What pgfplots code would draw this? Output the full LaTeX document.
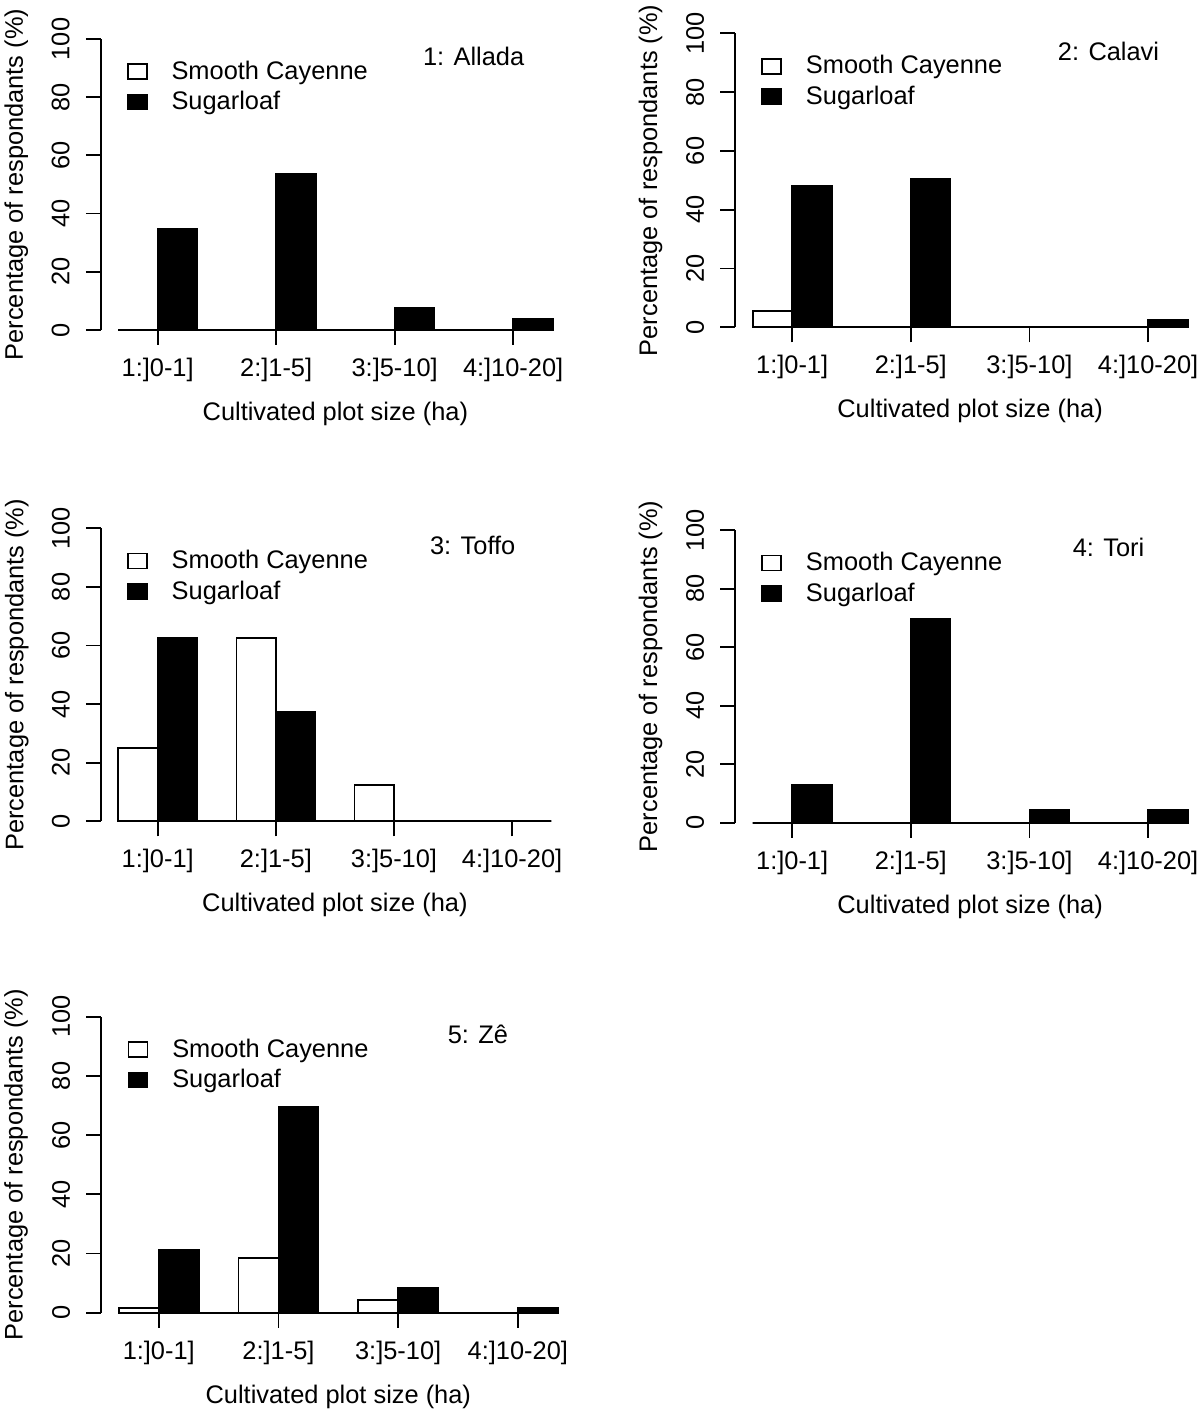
\documentclass[border=0pt]{standalone}
\usepackage{fontspec}
\setmainfont{Liberation Sans}
\usepackage{pgfplots}
\pgfplotsset{compat=1.18}
\newcommand\fs{\fontsize{12.7}{15}\selectfont}
\pgfplotsset{
  panel/.style={
    scale only axis, clip=false,
    xmin=0.56, xmax=12.44, ymin=0, ymax=100,
    axis x line*=bottom, axis y line*=left,
    x axis line style={draw=none},
    y axis line style={-, line width=0.9pt},
    tick align=outside, major tick length=7.5pt,
    every tick/.style={black, line width=0.9pt},
    xtick={2,5,8,11},
    xticklabels={{1:]0-1]},{2:]1-5]},{3:]5-10]},{4:]10-20]}},
    ytick={0,20,40,60,80,100},
    yticklabel style={rotate=90, anchor=south},
    yticklabel shift=4.5pt,
    xticklabel shift=3pt,
    /pgf/number format/assume math mode=true,
    tick label style={font=\fs},
    label style={font=\fs},
    xlabel={Cultivated plot size (ha)},
    ylabel={Percentage of respondants (\%)},
    xlabel style={at={(axis description cs:0.5,0)}, anchor=center, yshift=-42pt},
    ylabel style={at={(axis description cs:-0.18,0.5)}, anchor=center},
    legend style={at={(axis cs:1.06,95.3)}, anchor=north west, draw=none, fill=none, font=\fs, row sep=0.5pt, column sep=10pt},
    legend cell align=left,
  },
  sc/.style={ybar, bar width=1, bar shift=0pt, fill=white, draw=black, line width=0.9pt,
    legend image code/.code={\draw[fill=white, draw=black, line width=0.8pt] (0pt,-3.75pt) rectangle (9.5pt,3.75pt);}},
  sl/.style={ybar, bar width=1, bar shift=0pt, fill=black, draw=black, line width=0.9pt,
    legend image code/.code={\draw[fill=black, draw=black, line width=0.8pt] (0pt,-3.75pt) rectangle (9.5pt,3.75pt);}},
}
\begin{document}
\begin{tikzpicture}
\useasboundingbox (0,0) rectangle (600pt,706pt);
% Panel 1
\begin{axis}[panel, at={(50.4pt,541pt)}, anchor=south west, width=234.6pt, height=145.5pt]
\addplot[sc] coordinates {(1.5,0) (4.5,0) (7.5,0) (10.5,0)};
\addplot[sl] coordinates {(2.5,34.6) (5.5,53.8) (8.5,7.7) (11.5,3.8)};
\legend{Smooth Cayenne, Sugarloaf}
\draw[line width=0.9pt] (axis cs:1,0) -- (axis cs:12,0);
\node[font=\fs] at (axis cs:10,94) {1: Allada};
\end{axis}
% Panel 2
\begin{axis}[panel, at={(367.6pt,542.35pt)}, anchor=south west, width=234.9pt, height=147pt]
\addplot[sc] coordinates {(1.5,5.6) (4.5,0) (7.5,0) (10.5,0)};
\addplot[sl] coordinates {(2.5,48.2) (5.5,50.4) (8.5,0) (11.5,2.5)};
\legend{Smooth Cayenne, Sugarloaf}
\draw[line width=0.9pt] (axis cs:1,0) -- (axis cs:12,0);
\node[font=\fs] at (axis cs:10,94) {2: Calavi};
\end{axis}
% Panel 3
\begin{axis}[panel, at={(50.5pt,295.35pt)}, anchor=south west, width=233.9pt, height=146.5pt]
\addplot[sc] coordinates {(1.5,25) (4.5,62.5) (7.5,12.5) (10.5,0)};
\addplot[sl] coordinates {(2.5,62.5) (5.5,37.5) (8.5,0) (11.5,0)};
\legend{Smooth Cayenne, Sugarloaf}
\draw[line width=0.9pt] (axis cs:1,0) -- (axis cs:12,0);
\node[font=\fs] at (axis cs:10,94) {3: Toffo};
\end{axis}
% Panel 4
\begin{axis}[panel, at={(367.6pt,294.65pt)}, anchor=south west, width=234.9pt, height=146.3pt]
\addplot[sc] coordinates {(1.5,0) (4.5,0) (7.5,0) (10.5,0)};
\addplot[sl] coordinates {(2.5,13.0) (5.5,69.6) (8.5,4.35) (11.5,4.35)};
\legend{Smooth Cayenne, Sugarloaf}
\draw[line width=0.9pt] (axis cs:1,0) -- (axis cs:12,0);
\node[font=\fs] at (axis cs:10,94) {4: Tori};
\end{axis}
% Panel 5
\begin{axis}[panel, at={(50.65pt,49.65pt)}, anchor=south west, width=237pt, height=148pt]
\addplot[sc] coordinates {(1.5,1.7) (4.5,18.4) (7.5,4.4) (10.5,0)};
\addplot[sl] coordinates {(2.5,21.3) (5.5,69.4) (8.5,8.3) (11.5,1.6)};
\legend{Smooth Cayenne, Sugarloaf}
\draw[line width=0.9pt] (axis cs:1,0) -- (axis cs:12,0);
\node[font=\fs] at (axis cs:10,94) {5: Zê};
\end{axis}
\end{tikzpicture}
\end{document}
